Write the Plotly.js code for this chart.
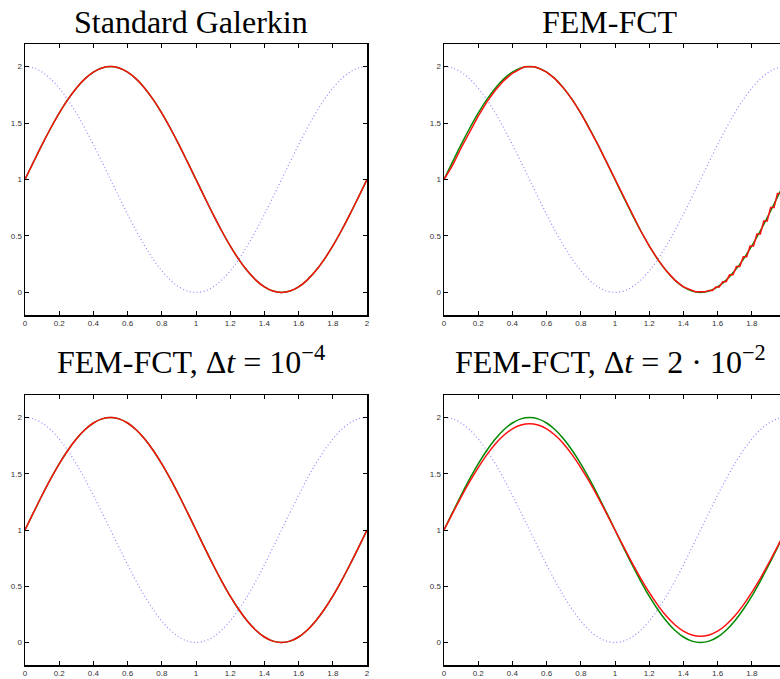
<!DOCTYPE html>
<html>
<head>
<meta charset="utf-8">
<script src="https://cdn.plot.ly/plotly-3.0.1.min.js"></script>
<style>html,body{margin:0;padding:0;overflow:hidden;background:#fff;}#chart{width:800px;height:679px;}</style>
</head>
<body>
<div id="chart"></div>
<script>
// ---- data ----
const xs = [0,0.05,0.1,0.15,0.2,0.25,0.3,0.35,0.4,0.45,0.5,0.55,0.6,0.65,0.7,0.75,0.8,0.85,0.9,0.95,1,
  1.05,1.1,1.15,1.2,1.25,1.3,1.35,1.4,1.45,1.5,1.55,1.6,1.65,1.7,1.75,1.8,1.85,1.9,1.95,2];

// initial profile (blue dotted)
const initialY = [2,1.988,1.951,1.891,1.809,1.707,1.588,1.454,1.309,1.156,1,0.844,0.691,0.546,0.412,0.293,0.191,0.109,0.049,0.012,0,
  0.012,0.049,0.109,0.191,0.293,0.412,0.546,0.691,0.844,1,1.156,1.309,1.454,1.588,1.707,1.809,1.891,1.951,1.988,2];

// exact solution (green)
const exactY = [1,1.156,1.309,1.454,1.588,1.707,1.809,1.891,1.951,1.988,2,1.988,1.951,1.891,1.809,1.707,1.588,1.454,1.309,1.156,1,
  0.844,0.691,0.546,0.412,0.293,0.191,0.109,0.049,0.012,0,0.012,0.049,0.109,0.191,0.293,0.412,0.546,0.691,0.844,1];

// Standard Galerkin numerical (red)
const galerkinY = [1,1.156,1.309,1.454,1.588,1.707,1.809,1.891,1.951,1.988,2,1.988,1.951,1.891,1.809,1.707,1.588,1.454,1.309,1.156,1,
  0.844,0.691,0.546,0.412,0.293,0.191,0.109,0.049,0.012,0,0.012,0.049,0.109,0.191,0.293,0.412,0.546,0.691,0.844,1];

// FEM-FCT numerical (red) with flat clipped extrema and small staircase on the rising part
const fctX = [0,0.05,0.1,0.15,0.2,0.25,0.3,0.35,0.4,0.45,0.47,0.53,0.55,0.6,0.65,0.7,0.75,0.8,0.85,0.9,0.95,1,
  1.05,1.1,1.15,1.2,1.25,1.3,1.35,1.4,1.45,1.47,1.53,1.55,1.57,1.59,1.61,1.63,1.65,1.67,1.69,1.71,1.73,1.75,1.77,
  1.79,1.81,1.83,1.85,1.87,1.89,1.91,1.93,1.95,1.97,1.99,2];
const fctY = [1,1.125,1.279,1.426,1.562,1.685,1.790,1.876,1.941,1.982,1.998,1.998,1.988,1.951,1.891,1.809,1.707,1.588,1.454,1.309,1.156,1,
  0.844,0.691,0.546,0.412,0.293,0.191,0.109,0.049,0.014,0.006,0.006,0.018,0.018,0.049,0.049,0.095,0.095,0.156,0.156,0.230,0.230,0.316,0.316,
  0.412,0.412,0.518,0.518,0.632,0.632,0.751,0.751,0.875,0.875,0.97,1];

// FEM-FCT, dt = 1e-4 (red)
const fctSmallDtY = [1,1.156,1.309,1.454,1.588,1.707,1.809,1.891,1.951,1.988,2,1.988,1.951,1.891,1.809,1.707,1.588,1.454,1.309,1.156,1,
  0.844,0.691,0.546,0.412,0.293,0.191,0.109,0.049,0.012,0,0.012,0.049,0.109,0.191,0.293,0.412,0.546,0.691,0.844,1];

// FEM-FCT, dt = 2e-2 (red, damped)
const fctLargeDtY = [1,1.148,1.292,1.429,1.555,1.668,1.765,1.842,1.899,1.933,1.945,1.933,1.899,1.842,1.765,1.668,1.555,1.429,1.292,1.148,1,
  0.852,0.708,0.571,0.445,0.332,0.235,0.158,0.101,0.067,0.055,0.067,0.101,0.158,0.235,0.332,0.445,0.571,0.708,0.852,1];

const titles = ['Standard Galerkin', 'FEM-FCT', 'FEM-FCT, \u0394<i>t</i> = 10<sup>\u22124</sup>', 'FEM-FCT, \u0394<i>t</i> = 2 \u00b7 10<sup>\u22122</sup>'];
const xTicksFull = [0,0.2,0.4,0.6,0.8,1,1.2,1.4,1.6,1.8,2];
const xTicksCut = [0,0.2,0.4,0.6,0.8,1,1.2,1.4,1.6,1.8];
const yTicks = [0,0.5,1,1.5,2];

// ---- layout ----
const W = 800, H = 679;
const px = (a,b) => [a/W, b/W];
const py = (top,bot) => [1 - bot/H, 1 - top/H];
const colX = [px(25,367), px(444,786)];
const rowY = [py(44,315), py(395,665)];

const blue = '#8c8cff', green = '#008a00', red = '#ff1010';
const panels = [
  {nx: xs, ny: galerkinY},
  {nx: fctX, ny: fctY},
  {nx: xs, ny: fctSmallDtY},
  {nx: xs, ny: fctLargeDtY}
];

const traces = [];
const layout = {
  width: W, height: H, margin: {l:0, r:0, t:0, b:0},
  paper_bgcolor: '#fff', plot_bgcolor: '#fff', showlegend: false,
  font: {family: 'Liberation Sans, Arial, sans-serif', size: 8, color: '#333'},
  annotations: []
};
const titleX = [191, 610];
const titleY = [22, 360];

panels.forEach((p, i) => {
  const r = Math.floor(i/2), c = i % 2;
  const sfx = i === 0 ? '' : String(i+1);
  const xa = 'x' + sfx, ya = 'y' + sfx;
  traces.push({x: xs, y: initialY, xaxis: xa, yaxis: ya, mode: 'lines', line: {color: blue, width: 1.2, dash: '1px,2.5px', shape: 'spline'}, hoverinfo: 'skip'});
  traces.push({x: xs, y: exactY, xaxis: xa, yaxis: ya, mode: 'lines', line: {color: green, width: 1.5, shape: 'spline'}, hoverinfo: 'skip'});
  traces.push({x: p.nx, y: p.ny, xaxis: xa, yaxis: ya, mode: 'lines', line: {color: red, width: 1.5, shape: i === 1 ? 'linear' : 'spline'}, hoverinfo: 'skip'});
  const common = {showgrid: false, zeroline: false, showline: true, mirror: 'ticks', linecolor: '#000', linewidth: 1.5,
    ticks: 'inside', ticklen: 4, tickcolor: '#000', tickwidth: 1, tickfont: {size: 8, color: '#333'}, fixedrange: true};
  layout['xaxis' + sfx] = Object.assign({}, common, {domain: colX[c], range: [0, 2], tickmode: 'array',
    tickvals: c === 0 ? xTicksFull : xTicksCut, anchor: ya});
  layout['yaxis' + sfx] = Object.assign({}, common, {domain: rowY[r], range: [-0.2, 2.2], tickmode: 'array', tickvals: yTicks, anchor: xa});
  layout.annotations.push({text: titles[i], xref: 'paper', yref: 'paper', x: titleX[c]/W, y: 1 - titleY[r]/H,
    xanchor: 'center', yanchor: 'middle', showarrow: false,
    font: {family: 'Liberation Serif, DejaVu Serif, serif', size: 32, color: '#000'}});
});

Plotly.newPlot('chart', traces, layout, {staticPlot: true, displayModeBar: false});
</script>
</body>
</html>
